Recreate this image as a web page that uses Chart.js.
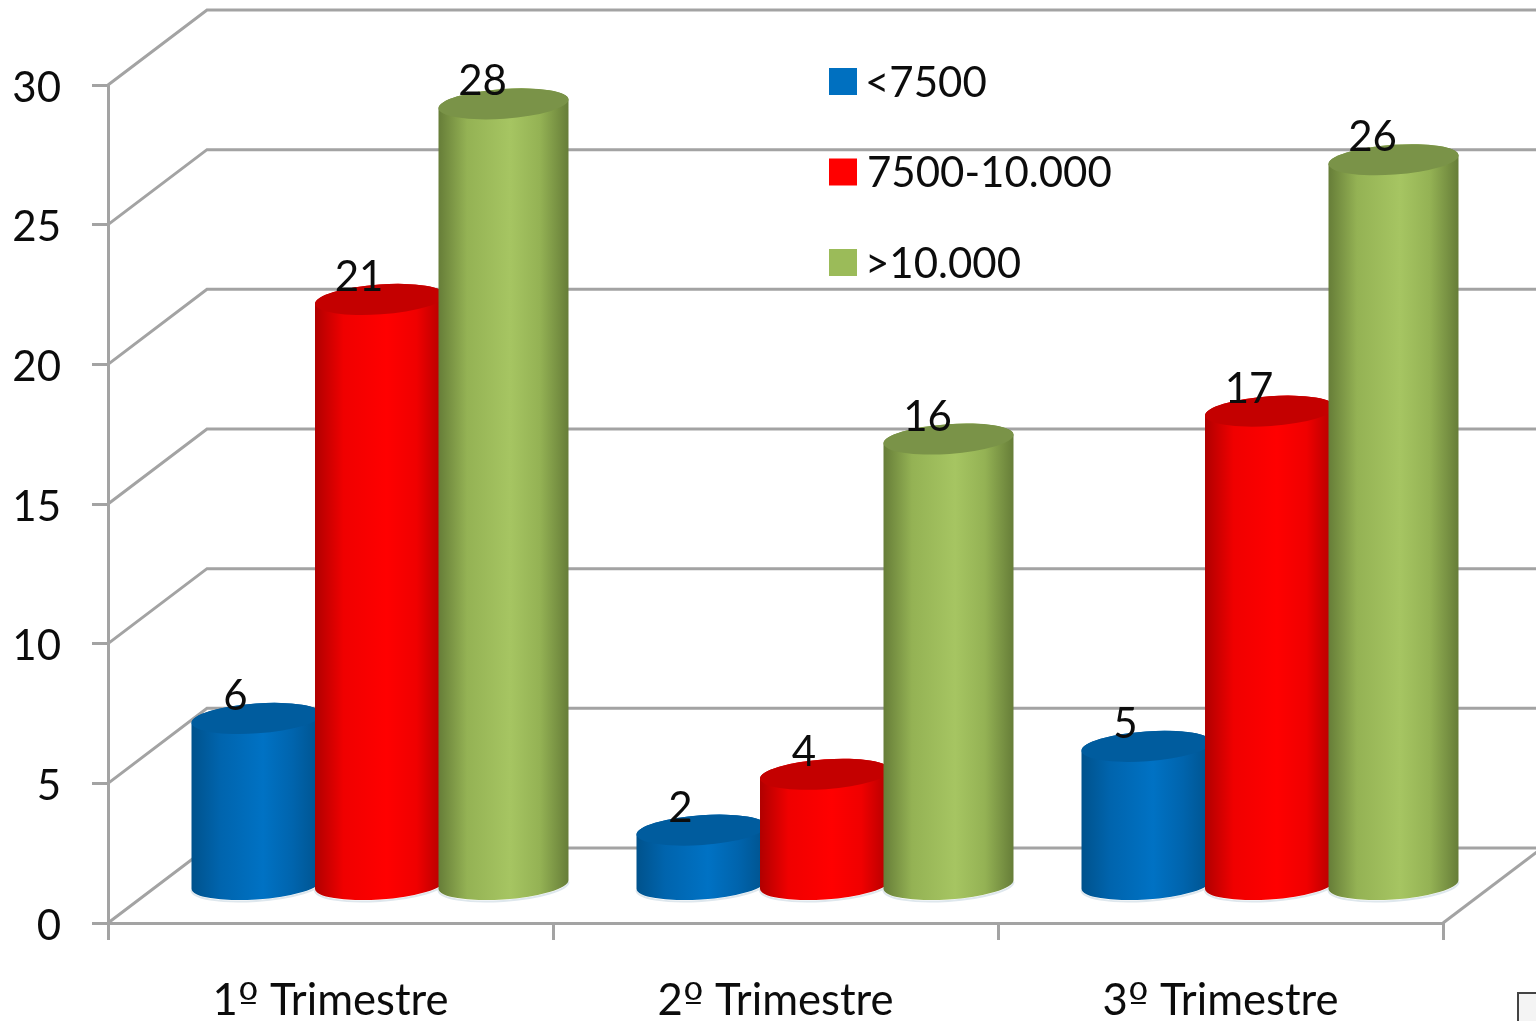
<!DOCTYPE html>
<html lang="en">
<head>
    <meta charset="UTF-8">
    <title>Trimestres</title>
    <script src="https://cdn.jsdelivr.net/npm/chart.js"></script>
    <style>
        /* the ordinal sign gets its underlined form from DejaVu */
        @font-face {
            font-family: "Ordinal";
            src: local("DejaVu Sans");
            unicode-range: U+BA;
        }
        html, body { margin: 0; padding: 0; background: #fff; overflow: hidden; }
        canvas { display: block; }
    </style>
</head>
<body>
    <canvas id="chart" width="1536" height="1021"></canvas>
    <script>
        const categories = ["1º Trimestre", "2º Trimestre", "3º Trimestre"];
        const seriesNames = ["<7500", "7500-10.000", ">10.000"];
        const lowValues = [6, 2, 5];
        const midValues = [21, 4, 17];
        const highValues = [28, 16, 26];
        const seriesValues = [lowValues, midValues, highValues];

        const FONT = "42px Lato";
        const GRID = "#a3a3a3";
        const INK = "#0c0c0c";

        // depth of the fake 3D box, and where the bars stand inside it
        const DEPTH_X = 99, DEPTH_Y = 75;
        const BAR_DX = 49.5, BAR_DY = 37;

        // edge / mid / lit colours of each cylinder, plus its cap
        const palette = [
            { edge: "#00528c", mid: "#0064ad", lit: "#0072c4", cap: "#005c9e", key: "#0070c0" },
            { edge: "#b00000", mid: "#f00000", lit: "#ff0000", cap: "#c40000", key: "#ff0000" },
            { edge: "#667d38", mid: "#94b254", lit: "#a6c562", cap: "#7a9348", key: "#9bbb59" }
        ];

        function drawCylinder(ctx, cx, topY, baseY, width, colors) {
            const tilt = -0.07;
            const a = width / 2, b = 14.9;
            const t0 = Math.atan(b / a * Math.tan(-tilt));

            const grad = ctx.createLinearGradient(cx - width / 2, 0, cx + width / 2, 0);
            grad.addColorStop(0, colors.edge);
            grad.addColorStop(0.22, colors.mid);
            grad.addColorStop(0.55, colors.lit);
            grad.addColorStop(0.78, colors.mid);
            grad.addColorStop(1, colors.edge);

            // pale rim under the foot
            ctx.beginPath();
            ctx.ellipse(cx, baseY + 1.5, a, b, tilt, t0, t0 + Math.PI);
            ctx.strokeStyle = "rgba(200,215,225,0.6)";
            ctx.lineWidth = 2;
            ctx.stroke();

            ctx.beginPath();
            ctx.ellipse(cx, baseY, a, b, tilt, t0, t0 + Math.PI);
            ctx.ellipse(cx, topY, a, b, tilt, t0 + Math.PI, t0 + Math.PI * 2);
            ctx.closePath();
            ctx.fillStyle = grad;
            ctx.fill();

            ctx.beginPath();
            ctx.ellipse(cx, topY, a, b, tilt, 0, Math.PI * 2);
            ctx.fillStyle = colors.cap;
            ctx.fill();
        }

        const scenePlugin = {
            id: "scene",
            // back wall and side wall lines
            beforeDatasetsDraw(chart) {
                const ctx = chart.ctx;
                const y = chart.scales.y;
                const area = chart.chartArea;
                ctx.save();
                ctx.strokeStyle = GRID;
                ctx.lineWidth = 3;
                y.ticks.forEach(t => {
                    const py = y.getPixelForValue(t.value);
                    ctx.beginPath();
                    ctx.moveTo(area.left, py);
                    ctx.lineTo(area.left + DEPTH_X, py - DEPTH_Y);
                    ctx.lineTo(chart.width, py - DEPTH_Y);
                    ctx.stroke();
                });
                // floor edge on the right
                ctx.beginPath();
                ctx.moveTo(area.right, area.bottom);
                ctx.lineTo(area.right + DEPTH_X, area.bottom - DEPTH_Y);
                ctx.stroke();
                ctx.restore();
            },
            // the flat bars are replaced by cylinders below
            beforeDatasetDraw() {
                return false;
            },
            afterDatasetsDraw(chart) {
                const ctx = chart.ctx;
                const metas = chart.data.datasets.map((d, i) => chart.getDatasetMeta(i));
                ctx.save();
                metas.forEach((meta, i) => {
                    meta.data.forEach(bar => {
                        drawCylinder(ctx, bar.x + BAR_DX, bar.y - BAR_DY, bar.base - BAR_DY, bar.width, palette[i]);
                    });
                });
                // value labels
                ctx.font = FONT;
                ctx.fillStyle = INK;
                ctx.textAlign = "center";
                ctx.textBaseline = "middle";
                metas.forEach((meta, i) => {
                    meta.data.forEach((bar, j) => {
                        ctx.fillText(seriesValues[i][j], bar.x + BAR_DX - 21, bar.y - BAR_DY - 22);
                    });
                });
                ctx.restore();
            },
            afterDraw(chart) {
                const ctx = chart.ctx;
                const y = chart.scales.y;
                ctx.save();
                ctx.font = FONT;
                ctx.textBaseline = "middle";
                // y tick labels sit a little under their tick marks
                ctx.textAlign = "right";
                ctx.fillStyle = INK;
                y.ticks.forEach(t => {
                    ctx.fillText(t.label, 61, y.getPixelForValue(t.value) + 3);
                });
                // legend
                ctx.textAlign = "left";
                seriesNames.forEach((name, i) => {
                    const rowY = 83 + i * 90.5;
                    ctx.fillStyle = palette[i].key;
                    ctx.fillRect(829, rowY - 15, 28, 27);
                    ctx.fillStyle = INK;
                    ctx.fillText(name, i === 1 ? 867 : 865, rowY);
                });
                // corner of the box cut off at the page edge
                ctx.fillStyle = "#f4f4f4";
                ctx.fillRect(1518, 993, 20, 30);
                ctx.strokeStyle = "#444";
                ctx.lineWidth = 2;
                ctx.strokeRect(1518, 993, 30, 40);
                ctx.restore();
            }
        };

        function buildChart() {
            new Chart(document.getElementById("chart"), {
                type: "bar",
                data: {
                    labels: categories,
                    datasets: seriesNames.map((name, i) => ({
                        label: name,
                        data: seriesValues[i],
                        backgroundColor: palette[i].key,
                        barPercentage: 1.055,
                        categoryPercentage: 0.8326
                    }))
                },
                options: {
                    responsive: false,
                    animation: false,
                    layout: { padding: { top: 85, right: 93, left: 0, bottom: 0 } },
                    plugins: { legend: { display: false }, tooltip: { enabled: false } },
                    scales: {
                        x: {
                            afterFit(scale) { scale.height = 98; },
                            border: { color: GRID, width: 3 },
                            grid: { color: GRID, lineWidth: 3, drawOnChartArea: false, tickLength: 17 },
                            ticks: { color: INK, font: { family: "Ordinal, Lato", size: 43.6 }, padding: 35, maxRotation: 0 }
                        },
                        y: {
                            min: 0,
                            max: 30,
                            afterFit(scale) { scale.width = 108; },
                            border: { color: GRID, width: 3 },
                            grid: { color: GRID, lineWidth: 3, drawOnChartArea: false, tickLength: 16 },
                            ticks: { stepSize: 5, display: false }
                        }
                    }
                },
                plugins: [scenePlugin]
            });
        }

        document.fonts.load("44px Ordinal", "º").then(buildChart, buildChart);
    </script>
</body>
</html>
